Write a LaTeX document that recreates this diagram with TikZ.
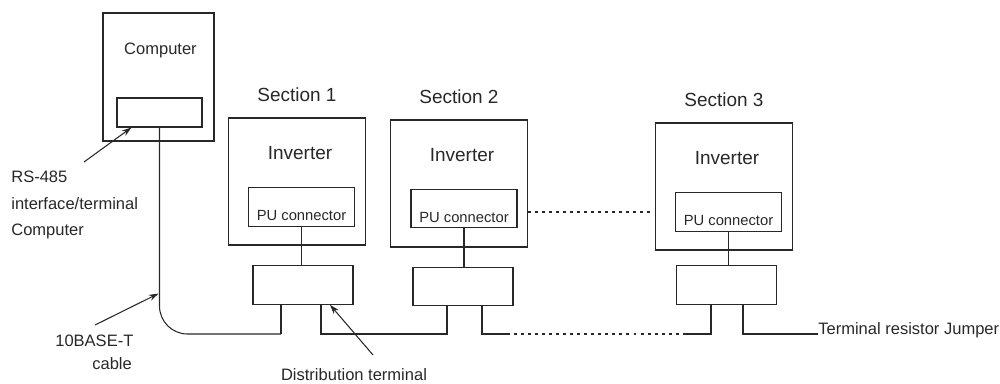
\documentclass[tikz,border=0pt]{standalone}
\usepackage{fontspec}
\setmainfont{Liberation Sans}
\usepackage{tikz}
\usetikzlibrary{arrows.meta,calc,positioning}
\usepackage{xcolor}
\definecolor{scanink}{RGB}{40,40,40}

\begin{document}
\begin{tikzpicture}[x=0.02cm,y=-0.02cm,>={Stealth[length=5.5pt,width=3.6pt]},color=scanink,
    box/.style={draw,line width=0.6pt,inner sep=0pt},
    invbox/.style={box,minimum width=2.74cm,minimum height=2.54cm},
    pubox/.style={box,minimum width=2.12cm,minimum height=0.77cm},
    distbox/.style={box,minimum width=2cm,minimum height=0.77cm},
    bigtext/.style={font=\fontsize{10.8}{13}\selectfont,inner sep=0pt},
    smalltext/.style={font=\fontsize{9.4}{15.1}\selectfont,inner sep=0pt},
    putext/.style={font=\fontsize{8.4}{10}\selectfont,inner sep=0pt},
    wire/.style={line width=0.6pt},
    dots/.style={wire,dash pattern=on 1.7pt off 2.3pt}]
    \useasboundingbox (0,0) rectangle (1000,383);
    \node[box,minimum width=2.22cm,minimum height=2.56cm] (pc) at (158.5,77) {};
    \node[smalltext,anchor=base] (pctext) at ($(pc.north)+(2,42)$) {Computer};
    \node[box,minimum width=1.7cm,minimum height=0.58cm] (iface) at (159.5,112.5) {};
    \node[invbox] (inv1) at (297,181.5) {}; \node[invbox] (inv2) at (459,183.5) {}; \node[invbox] (inv3) at (724,186.5) {};
    \node[bigtext,above=0.3cm of inv1] (sec1) {Section 1};
    \node[bigtext,above=0.3cm of inv2] (sec2) {Section 2};
    \node[bigtext,above=0.3cm of inv3] (sec3) {Section 3};
    \node[bigtext,anchor=base] (inv1t) at ($(inv1.north)+(3,42)$) {Inverter};
    \node[bigtext,anchor=base] (inv2t) at ($(inv2.north)+(3,42)$) {Inverter};
    \node[bigtext,anchor=base] (inv3t) at ($(inv3.north)+(3,42)$) {Inverter};
    \node[pubox] (pu1) at (301.5,207) {}; \node[pubox] (pu2) at (464,208.5) {}; \node[pubox] (pu3) at (728.5,212) {};
    \node[putext,anchor=base] (pu1t) at ($(pu1.south)+(0,-6)$) {PU connector};
    \node[putext,anchor=base] (pu2t) at ($(pu2.south)+(0,-6)$) {PU connector};
    \node[putext,anchor=base] (pu3t) at ($(pu3.south)+(0,-6)$) {PU connector};
    \node[distbox] (d1) at (303,285) {}; \node[distbox] (d2) at (463,286.5) {}; \node[distbox] (d3) at (726.5,285) {};
    \coordinate (bus) at (0,334);
    \coordinate (l1) at ($(d1.south)+(-22,0)$); \coordinate (r1) at ($(d1.south)+(18,0)$);
    \coordinate (l2) at ($(d2.south)+(-16,0)$); \coordinate (r2) at ($(d2.south)+(19,0)$);
    \coordinate (l3) at ($(d3.south)+(-15.5,0)$); \coordinate (r3) at ($(d3.south)+(16.5,0)$);
    \draw[wire] (pu1.south) -- (pu1.south |- d1.north);
    \draw[wire] (pu2.south) -- (pu2.south |- d2.north);
    \draw[wire] (pu3.south) -- (pu3.south |- d3.north);
    \draw[dots] (inv2.east |- pu3.west) -- (inv3.west |- pu3.west);
    \draw[wire,rounded corners=0.56cm] (iface.south) |- (l1 |- bus);
    \draw[wire] (l1 |- bus) -- (l1);
    \draw[wire] (r1) |- (l2 |- bus) -- (l2);
    \draw[wire] (r2) |- ($(r2 |- bus)+(25,0)$) coordinate (dotA);
    \draw[dots] (dotA) -- ($(l3 |- bus)+(-28,0)$) coordinate (dotB);
    \draw[wire] (dotB) -- (l3 |- bus) -- (l3);
    \node[smalltext,anchor=base west] (term) at (818,334) {Terminal resistor Jumper};
    \draw[wire] (r3) |- (term.base west);
    \node[smalltext,align=left,anchor=north west] (rslabel) at (11,171) {RS-485\\interface/terminal\\Computer};
    \node[smalltext,align=left,anchor=north west] (cablabel) at (55,335) {10BASE-T\\[-2pt]\hspace*{0.74cm}cable};
    \node[smalltext,anchor=base] (distlabel) at (354,380) {Distribution terminal};
    \coordinate (rstail) at (84,162); \coordinate (cabtail) at (95,325); \coordinate (disttail) at (373,355);
    \coordinate (cabhit) at ($(iface.south)+(-1,166)$);
    \draw[wire,->] (rstail) -- ($(iface.south west)+(15,0)$);
    \draw[wire,->] (cabtail) -- (cabhit);
    \draw[wire,->] (disttail) -- ($(d1.south)+(27,0)$);
\end{tikzpicture}
\end{document}
